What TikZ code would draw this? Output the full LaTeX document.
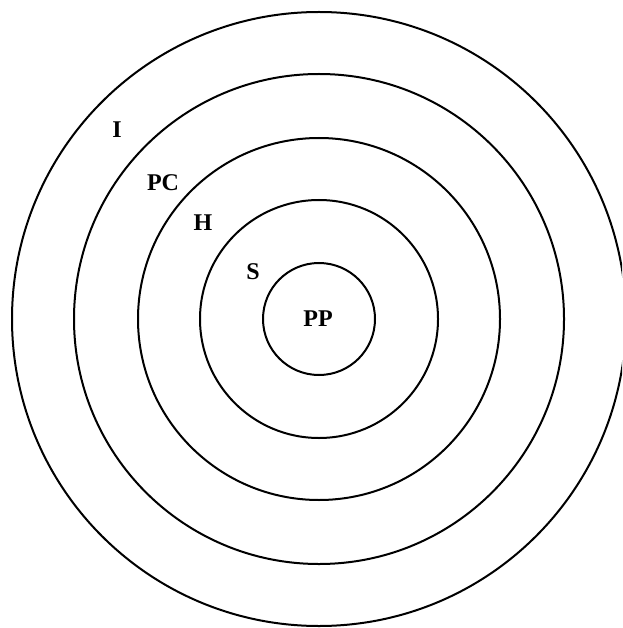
\documentclass[tikz,border=0pt]{standalone}
\usepackage{fontspec}
\setmainfont{Liberation Serif}
\begin{document}
\begin{tikzpicture}[x=1pt,y=-1pt,
  ring/.style={draw=black,line width=2pt},
  lbl/.style={font=\bfseries\fontsize{24}{24}\selectfont,inner sep=0pt,anchor=center}]
\useasboundingbox (0,0) rectangle (622,628);
\clip (0,0) rectangle (622,628);
\coordinate (c) at (319,319);
\draw[ring] (c) circle[radius=307];
\draw[ring] (c) circle[radius=245];
\draw[ring] (c) circle[radius=181];
\draw[ring] (c) circle[radius=119];
\draw[ring] (c) circle[radius=56];
\node[lbl] (i) at (117,130) {I};
\node[lbl] (pc) at (163,183) {PC};
\node[lbl] (h) at (203,223) {H};
\node[lbl] (s) at (253,272) {S};
\node[lbl] (pp) at (318,319) {PP};
\end{tikzpicture}
\end{document}
